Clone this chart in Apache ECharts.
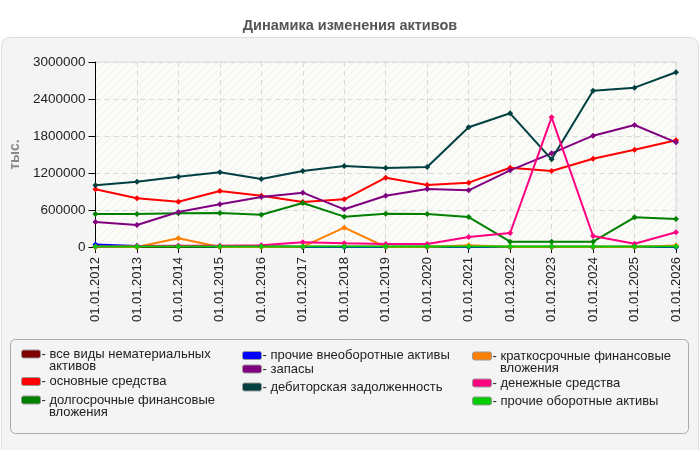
<!DOCTYPE html>
<html><head><meta charset="utf-8">
<script src="https://cdn.jsdelivr.net/npm/echarts@6/dist/echarts.min.js"></script>
<style>html,body{margin:0;padding:0;background:#fff}#c{width:700px;height:450px}</style>
</head><body><div id="c"></div>
<script>
var categories = ['01.01.2012','01.01.2013','01.01.2014','01.01.2015','01.01.2016','01.01.2017','01.01.2018','01.01.2019','01.01.2020','01.01.2021','01.01.2022','01.01.2023','01.01.2024','01.01.2025','01.01.2026'];
var yTicks = [0, 600000, 1200000, 1800000, 2400000, 3000000];
var intangible   = [3000,3000,3000,3000,3000,3000,5000,5000,3000,3000,3000,3000,3000,3000,3000];
var otherNonCur  = [40000,15000,15000,10000,10000,0,0,0,0,0,0,0,0,0,0];
var shortFin     = [0,0,141000,0,0,5000,314000,0,0,30000,0,0,0,0,25000];
var fixedAssets  = [935000,789000,735000,908000,832000,730000,773000,1124000,1005000,1043000,1286000,1232000,1432000,1578000,1730000];
var inventory    = [405000,357000,568000,692000,811000,881000,611000,832000,940000,919000,1243000,1519000,1805000,1978000,1697000];
var cash         = [10000,15000,20000,20000,30000,76000,60000,49000,49000,162000,227000,2103000,178000,54000,238000];
var longFin      = [535000,535000,546000,551000,524000,713000,492000,540000,535000,486000,87000,87000,87000,481000,454000];
var receivables  = [1000000,1059000,1140000,1211000,1103000,1232000,1313000,1281000,1297000,1941000,2168000,1422000,2535000,2584000,2833000];
var otherCur     = [10000,10000,10000,10000,10000,10000,10000,10000,10000,10000,10000,10000,10000,10000,10000];

var seriesNames = ['все виды нематериальных активов','основные средства','долгосрочные финансовые вложения','прочие внеоборотные активы','запасы','дебиторская задолженность','краткосрочные финансовые вложения','денежные средства','прочие оборотные активы'];
var legendLine1 = ['- все виды нематериальных','- основные средства','- долгосрочные финансовые','- прочие внеоборотные активы','- запасы','- дебиторская задолженность','- краткосрочные финансовые','- денежные средства','- прочие оборотные активы'];
var legendLine2 = ['активов','','вложения','','','','вложения','',''];
var seriesData = [intangible, fixedAssets, longFin, otherNonCur, inventory, receivables, shortFin, cash, otherCur];
var seriesColors = ['#800000','#ff0000','#008000','#0000ff','#800080','#004040','#ff8000','#ff0080','#00cc00'];
var legendPos = [[21,354],[21,381.5],[21,400],[242,355.5],[242,369],[242,387],[472,356],[472,383],[472,401]];

// hatch pattern for plot background
var pc = document.createElement('canvas'); pc.width = 8; pc.height = 8;
var g = pc.getContext('2d');
g.fillStyle = '#fbfbf7'; g.fillRect(0,0,8,8);
g.strokeStyle = '#efefec'; g.lineWidth = 1;
g.beginPath(); g.moveTo(0,8); g.lineTo(8,0); g.moveTo(-1,1); g.lineTo(1,-1); g.moveTo(7,9); g.lineTo(9,7); g.stroke();

var chart = echarts.init(document.getElementById('c'), null, {renderer:'canvas'});
var FONT = 'Liberation Sans, Arial, sans-serif';
var legends = seriesNames.map(function(n, i){
  return {
    data:[{name:n, icon:'roundRect', itemStyle:{color:seriesColors[i], borderColor:'#999', borderWidth:1}}],
    left:legendPos[i][0], top:legendPos[i][1] - 7, orient:'vertical', padding:0,
    itemWidth:19, itemHeight:8, itemGap:0,
    selectedMode:false,
    formatter:function(){return legendLine1[i];},
    textStyle:{fontFamily:FONT, fontSize:13, color:'#222', lineHeight:14, padding:[0,0,0,-4]}
  };
});
var graphics = [
  {type:'rect', z:-10, shape:{x:1.5,y:37.5,width:697,height:420,r:8}, style:{fill:'#f4f4f4', stroke:'#dddddd', lineWidth:1}},
  {type:'rect', z:-5, shape:{x:10.5,y:339.5,width:678,height:94,r:5}, style:{fill:'#f4f4f4', stroke:'#aaaaaa', lineWidth:1}}
];
legendLine2.forEach(function(t, i){
  if (!t) return;
  graphics.push({type:'text', z:10, x:legendPos[i][0] + 28, y:legendPos[i][1] + 12.5,
    style:{text:t, fontFamily:FONT, fontSize:13, fill:'#222', verticalAlign:'middle', align:'left'}});
});

chart.setOption({
  animation:false,
  backgroundColor:'#ffffff',
  title:{text:'Динамика изменения активов', left:'center', top:13,
    textStyle:{fontFamily:FONT, fontSize:14.5, fontWeight:'bold', color:'#555'}},
  graphic: graphics,
  legend: legends,
  grid:{left:94, right:24, top:62, bottom:203, show:true, backgroundColor:{image:pc, repeat:'repeat'}, borderColor:'#dddddd', borderWidth:1},
  xAxis:{type:'category', data:categories, boundaryGap:false,
    axisLine:{lineStyle:{color:'#000', width:1}},
    axisTick:{show:true, alignWithLabel:true, length:6, lineStyle:{color:'#000'}},
    axisLabel:{rotate:90, fontFamily:FONT, fontSize:13, color:'#222', margin:10},
    splitLine:{show:true, lineStyle:{color:'#d8d8d8', type:[5,4]}}
  },
  yAxis:{type:'value', min:yTicks[0], max:yTicks[yTicks.length-1], interval:yTicks[1]-yTicks[0],
    name:'тыс.', nameLocation:'middle', nameGap:63, nameRotate:90,
    nameTextStyle:{fontFamily:FONT, fontSize:14, fontWeight:'bold', color:'#888'},
    axisLine:{show:true, lineStyle:{color:'#000', width:1}},
    axisTick:{show:true, length:7, lineStyle:{color:'#000'}},
    axisLabel:{fontFamily:FONT, fontSize:13.5, color:'#222', margin:10, formatter:function(v){return String(v);}},
    splitLine:{show:true, lineStyle:{color:'#d8d8d8', type:[5,4]}}
  },
  series: seriesNames.map(function(n, i){
    return {name:n, type:'line', data:seriesData[i], color:seriesColors[i],
      symbol:'diamond', symbolSize:6, showSymbol:true,
      lineStyle:{width:2, color:seriesColors[i]}, itemStyle:{color:seriesColors[i]}};
  })
});
</script></body></html>
